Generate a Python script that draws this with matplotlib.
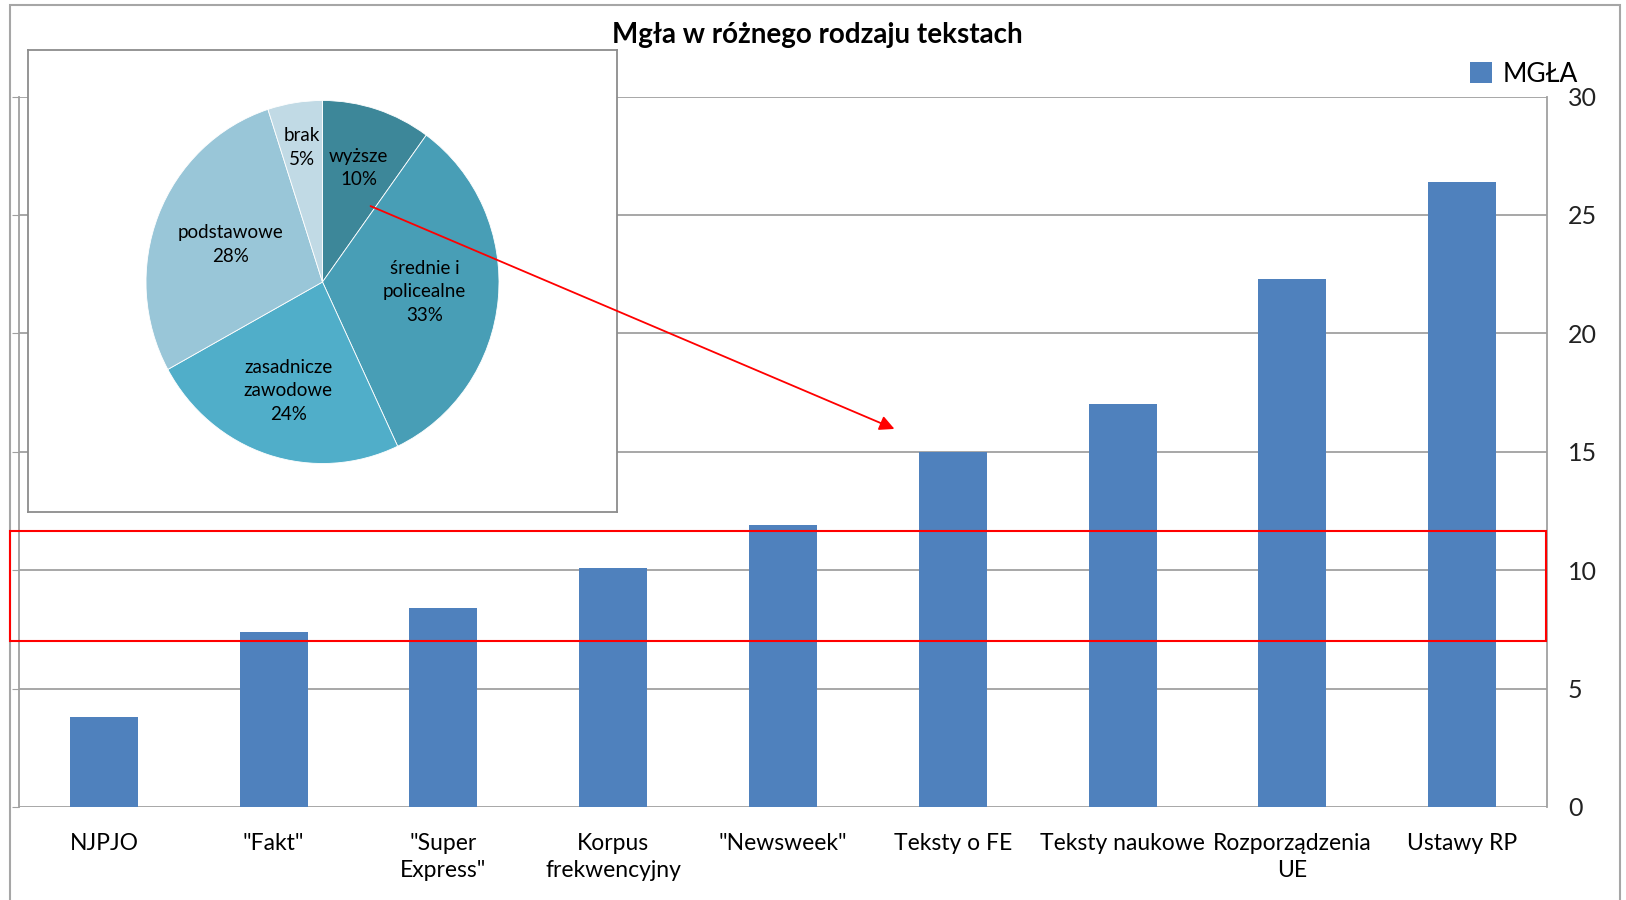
import matplotlib
matplotlib.use("Agg")
import numpy as np
import matplotlib.pyplot as plt
from matplotlib.patches import Rectangle, FancyArrowPatch

plt.rcParams['font.family'] = ['Lato', 'DejaVu Sans']

# === Data ===
categories = ['NJPJO', '"Fakt"', '"Super\nExpress"', 'Korpus\nfrekwencyjny', '"Newsweek"',
              'Teksty o FE', 'Teksty naukowe', 'Rozporządzenia\nUE', 'Ustawy RP']
mgla = [3.8, 7.4, 8.4, 10.1, 11.9, 15.0, 17.0, 22.3, 26.4]
yticks = [0, 5, 10, 15, 20, 25, 30]

pie_labels = ['wyższe', 'średnie i\npolicealne', 'zasadnicze\nzawodowe', 'podstawowe', 'brak']
pie_shares = [10, 33, 24, 28, 5]
pie_colors = ['#3D8799', '#489EB6', '#50AEC9', '#99C6D8', '#C1DAE5']
label_dist = [0.66, 0.58, 0.63, 0.56, 0.75]

W, H = 1626, 900
fig = plt.figure(figsize=(W / 100, H / 100), dpi=100)

def fx(px):
    return px / W

def fy(py):
    return 1 - py / H

# outer frame
fig.add_artist(Rectangle((fx(10), -0.01), fx(1610), fy(5) + 0.01, transform=fig.transFigure,
                         fill=False, edgecolor='#A6A6A6', lw=1.5))

# === Bar chart ===
ax = fig.add_axes([fx(19), fy(807), fx(1547 - 19), fy(96.5) - fy(807)])
x = range(len(categories))
ax.bar(x, mgla, width=0.4, color='#4F81BD', zorder=3, label='MGŁA')
ax.set_xlim(-0.5, len(categories) - 0.5)
ax.set_ylim(0, 30)
ax.set_yticks(yticks)
ax.yaxis.grid(True, color='#A0A0A0', lw=1.3, zorder=0)
ax.set_axisbelow(True)
for s in ['top', 'bottom']:
    ax.spines[s].set_visible(False)
for s in ['left', 'right']:
    ax.spines[s].set_color('#A0A0A0')
    ax.spines[s].set_linewidth(1.3)
ax.tick_params(axis='y', left=True, right=False, labelleft=False, labelright=True,
               length=5, color='#A0A0A0', labelsize=18, pad=10, labelcolor='#222222')
ax.set_xticks(list(x))
ax.set_xticklabels(categories, fontsize=16.5, linespacing=1.32, va='top')
ax.tick_params(axis='x', length=0, pad=19)

fig.text(fx(817), fy(35), 'Mgła w różnego rodzaju tekstach', ha='center', va='center',
         fontsize=20, fontweight='bold')
ax.legend(loc='center left', bbox_to_anchor=(fx(1470), fy(74)), bbox_transform=fig.transFigure,
          frameon=False, fontsize=19, handlelength=0.85, handleheight=0.85, handletextpad=0.4,
          borderaxespad=0, borderpad=0)

# === Pie inset ===
box = fig.add_axes([fx(28), fy(512), fx(617 - 28), fy(50) - fy(512)])
box.set_xticks([])
box.set_yticks([])
box.set_facecolor('white')
for s in box.spines.values():
    s.set_color('#8C8C8C')
    s.set_linewidth(1.3)

pax = fig.add_axes([fx(146), fy(463.5), fx(353), fy(100.5) - fy(463.5)])
wedges, _ = pax.pie(pie_shares, colors=pie_colors, startangle=90, counterclock=False,
                    radius=1, wedgeprops=dict(edgecolor='white', linewidth=0.6))
pax.set_aspect('auto')
pax.set_xlim(-1, 1)
pax.set_ylim(-1, 1)
pax.axis('off')
for w, lab, share, d in zip(wedges, pie_labels, pie_shares, label_dist):
    ang = np.deg2rad((w.theta1 + w.theta2) / 2)
    pax.text(d * np.cos(ang), d * np.sin(ang), f'{lab}\n{share}%', ha='center', va='center',
             fontsize=13.5, linespacing=1.45, color='black')

# === Annotations ===
fig.add_artist(FancyArrowPatch((fx(368), fy(205)), (fx(897), fy(430)), transform=fig.transFigure,
                               arrowstyle='-|>', mutation_scale=22, color='red', lw=1.3))
fig.add_artist(Rectangle((fx(10), fy(641)), fx(1536), fy(531) - fy(641), transform=fig.transFigure,
                         fill=False, edgecolor='red', lw=1.5))

fig.savefig('out.png', dpi=100)
